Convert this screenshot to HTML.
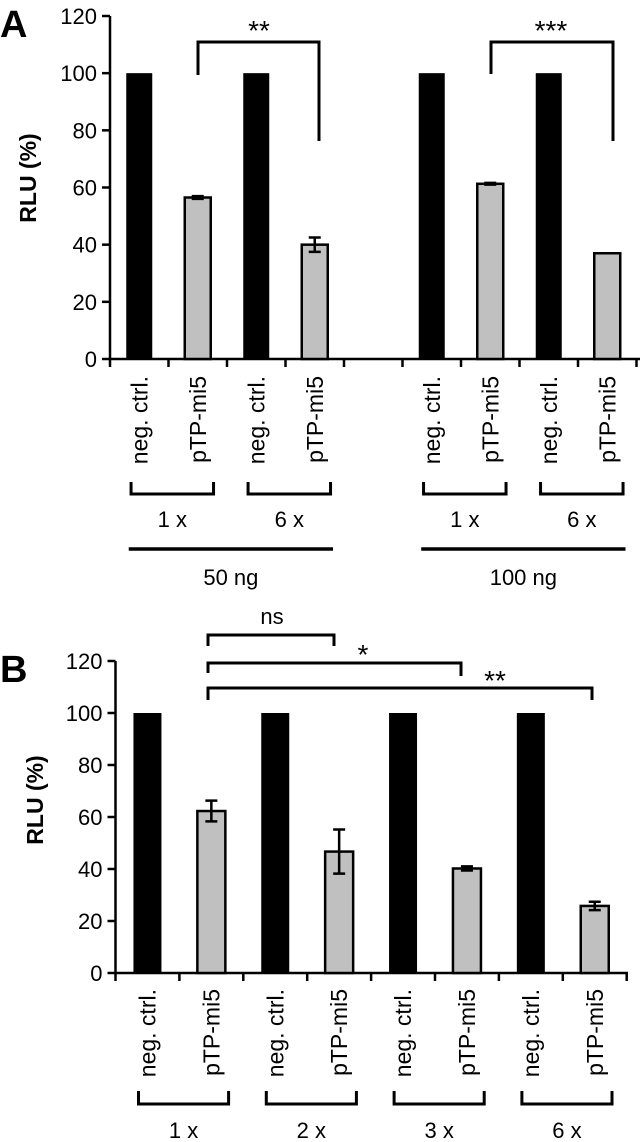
<!DOCTYPE html>
<html><head><meta charset="utf-8"><style>
html,body{margin:0;padding:0;background:#fff}
svg{display:block;font-family:"Liberation Sans",Arial,sans-serif}
</style></head><body>
<svg id="fig" width="640" height="1142" viewBox="0 0 640 1142" xmlns="http://www.w3.org/2000/svg"></svg>
<script>
// Panel A data
const aCategories = ["neg. ctrl.","pTP-mi5","neg. ctrl.","pTP-mi5","","neg. ctrl.","pTP-mi5","neg. ctrl.","pTP-mi5"];
const aValues = [100,56.5,100,40,null,100,61.3,100,37];
const aErrors = [0,0.5,0,2.5,0,0,0.3,0,0];
const aGroups = ["1 x","6 x","1 x","6 x"];
const aSuper = ["50 ng","100 ng"];
// Panel B data
const bCategories = ["neg. ctrl.","pTP-mi5","neg. ctrl.","pTP-mi5","neg. ctrl.","pTP-mi5","neg. ctrl.","pTP-mi5"];
const bValues = [100,62.3,100,46.7,100,40.2,100,25.8];
const bErrors = [0,4,0,8.5,0,0.8,0,1.6];
const bGroups = ["1 x","2 x","3 x","6 x"];
const yTicks = [0,20,40,60,80,100,120];

const NS="http://www.w3.org/2000/svg";
const svg=document.getElementById('fig');
function mk(tag,attrs,parent){const e=document.createElementNS(NS,tag);for(const k in attrs)e.setAttribute(k,attrs[k]);(parent||svg).appendChild(e);return e;}
function txt(s,attrs,parent){const e=mk('text',attrs,parent);e.textContent=s;return e;}

function panel(o){
  const g=mk('g',{});
  
  
  const y=v=>o.y0-(v/120)*(o.y0-o.y120);
  const x=i=>o.x0+i*o.cw;
  const L=txt(o.letter,{x:o.letterX,y:o.letterY,'font-size':38,'font-weight':'bold'},g);
  
  
  const yt=txt('RLU (%)',{x:0,y:0,'font-size':23,'font-weight':'bold','text-anchor':'middle',transform:`translate(${o.titleX},${o.titleY}) rotate(-90)`},g);
  
  
  const ya=mk('line',{x1:o.x0,x2:o.x0,y1:y(120),y2:o.y0,stroke:'#000','stroke-width':2.5},g);
  
  
  yTicks.forEach(t=>{
    mk('line',{x1:o.x0-8,x2:o.x0,y1:y(t),y2:y(t),stroke:'#000','stroke-width':2.5},g);
    const tl=txt(String(t),{x:o.x0-13,y:y(t)+8,'font-size':22,'text-anchor':'end'},g);
    
    
  });
  const xa=mk('line',{x1:o.x0,x2:o.xEnd,y1:o.y0,y2:o.y0,stroke:'#000','stroke-width':2.5},g);
  
  
  for(let i=0;i<=o.cats.length;i++){
    mk('line',{x1:x(i),x2:x(i),y1:o.y0,y2:o.y0+8,stroke:'#000','stroke-width':2.5},g);
  }
  o.cats.forEach((c,i)=>{
    const cx=x(i)+o.cw/2;
    const v=o.vals[i];
    if(v!==null&&v!==undefined){
      const gray=c.indexOf('pTP')===0;
      const r=mk('rect',{x:cx-o.bw/2,y:y(v),width:o.bw,height:o.y0-y(v),fill:gray?'#c0c0c0':'#000',stroke:'#000','stroke-width':gray?2.5:0},g);
      
      
      const e=o.errs[i];
      if(e>0){
        const eb=mk('path',{d:`M${cx},${y(v+e)}V${y(v-e)}M${cx-6},${y(v+e)}H${cx+6}M${cx-6},${y(v-e)}H${cx+6}`,stroke:'#000','stroke-width':2.5,fill:'none'},g);
        
        
      }
    }
    if(c){
      const cl=txt(c,{x:0,y:0,'font-size':23,'text-anchor':'end',transform:`translate(${cx+8},${o.labTop}) rotate(-90)`},g);
      
      
    }
  });
  o.groups.forEach((gname,k)=>{
    const i=o.groupIdx[k];
    const l=x(i)+o.cw/2-o.cw*0.14, r=x(i+1)+o.cw/2+o.cw*0.27;
    const br=mk('path',{d:`M${l},${o.gTop}V${o.gBot}H${r}V${o.gTop}`,stroke:'#000','stroke-width':3,fill:'none'},g);
    
    
    const gl=txt(gname,{x:(l+r)/2,y:o.gText,'font-size':22,'text-anchor':'middle'},g);
    
    
  });
  return {x,y,g};
}

// Panel A
const A=panel({name:'panel-a',letter:'A',letterX:0,letterY:37,titleX:36,titleY:178,x0:110,cw:58.5,xEnd:640,y0:359,y120:16,bw:26,
  cats:aCategories,vals:aValues,errs:aErrors,labTop:376,groups:aGroups,groupIdx:[0,2,5,7],gTop:482,gBot:494,gText:527});
[[0,3],[5,8]].forEach((p,k)=>{
  const l=A.x(p[0])+58.5*0.32, r=A.x(p[1]+1)-11;
  const ln=mk('line',{x1:l,x2:r,y1:549,y2:549,stroke:'#000','stroke-width':3.5});
  
  
  const t=txt(aSuper[k],{x:(l+r)/2,y:585,'font-size':22,'text-anchor':'middle'});
  
  
});
[[198,319,75,141,'**',259],[491,613,74,141,'***',551]].forEach(b=>{
  const p=mk('path',{d:`M${b[0]},${b[2]}V42H${b[1]}V${b[3]}`,stroke:'#000','stroke-width':3,fill:'none'});
  
  
  const t=txt(b[4],{x:b[5],y:40,'font-size':28,'text-anchor':'middle'});
  
  
});

// Panel B
const B=panel({name:'panel-b',letter:'B',letterX:0,letterY:682,titleX:43,titleY:800,x0:115.5,cw:63.9,xEnd:628,y0:973,y120:661,bw:28,
  cats:bCategories,vals:bValues,errs:bErrors,labTop:989,groups:bGroups,groupIdx:[0,2,4,6],gTop:1091,gBot:1104,gText:1138});
[[334,635,646,646,'ns',272,624,22],[461,663,673,676,'*',363,664,28],[592,688,700,700,'**',495,690,28]].forEach(b=>{
  const p=mk('path',{d:`M208,${b[2]}V${b[1]}H${b[0]}V${b[3]}`,stroke:'#000','stroke-width':3,fill:'none'});
  
  
  const t=txt(b[4],{x:b[5],y:b[6],'font-size':b[7],'text-anchor':'middle'});
  
  
});
</script>
</body></html>
